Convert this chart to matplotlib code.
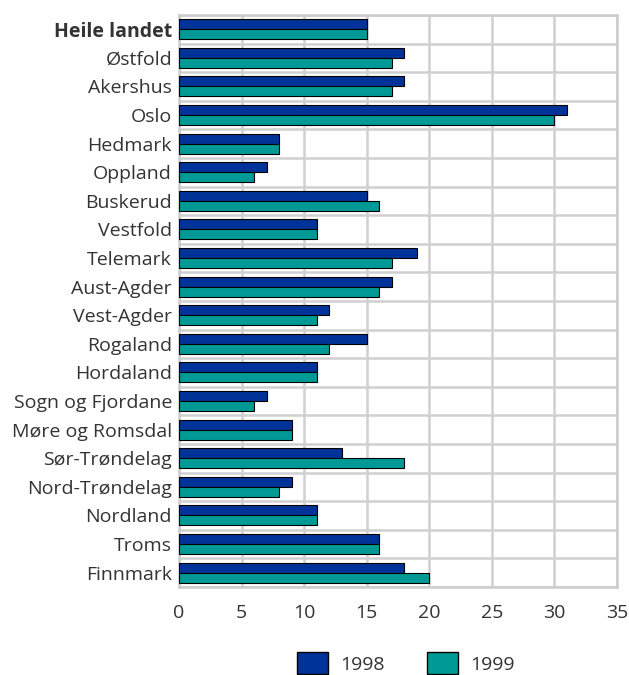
import numpy as np
import matplotlib.pyplot as plt
from matplotlib.patches import Patch

plt.rcParams['font.family'] = ['Open Sans', 'DejaVu Sans']

# data
fylker = ['Heile landet', 'Østfold', 'Akershus', 'Oslo', 'Hedmark', 'Oppland',
          'Buskerud', 'Vestfold', 'Telemark', 'Aust-Agder', 'Vest-Agder',
          'Rogaland', 'Hordaland', 'Sogn og Fjordane', 'Møre og Romsdal',
          'Sør-Trøndelag', 'Nord-Trøndelag', 'Nordland', 'Troms', 'Finnmark']
v1998 = [15, 18, 18, 31, 8, 7, 15, 11, 19, 17, 12, 15, 11, 7, 9, 13, 9, 11, 16, 18]
v1999 = [15, 17, 17, 30, 8, 6, 16, 11, 17, 16, 11, 12, 11, 6, 9, 18, 8, 11, 16, 20]

c98 = '#003399'
c99 = '#009a96'
tekst = '#333333'

fig = plt.figure(figsize=(6.29, 6.75), dpi=100)
ax = fig.add_axes([0.2846, 0.1304, 0.6964, 0.8474])

y = np.arange(len(fylker))
h = 0.35
ax.barh(y - h/2, v1998, height=h, color=c98, edgecolor='black', linewidth=0.8, zorder=3)
ax.barh(y + h/2, v1999, height=h, color=c99, edgecolor='black', linewidth=0.8, zorder=3)

ax.set_xlim(0, 35)
ax.set_ylim(len(fylker) - 0.5, -0.5)
ax.set_xticks(np.arange(0, 36, 5))
ax.set_yticks(y)
ax.set_yticklabels(fylker)
ax.set_yticks(np.arange(-0.5, len(fylker), 1), minor=True)
ax.tick_params(axis='both', which='both', length=0, labelsize=14, colors=tekst)
ax.tick_params(axis='x', pad=12)
ax.tick_params(axis='y', pad=5)
ax.get_yticklabels()[0].set_fontweight('bold')

ax.grid(axis='x', which='major', color='#d0d0d0', linewidth=1.8, zorder=0)
ax.grid(axis='y', which='minor', color='#d0d0d0', linewidth=1.8, zorder=0)
for s in ax.spines.values():
    s.set_color('#cccccc')
    s.set_linewidth(1.8)

handles = [Patch(facecolor=c98, edgecolor='black', label='1998'),
           Patch(facecolor=c99, edgecolor='black', label='1999')]
fig.legend(handles=handles, loc='lower center', bbox_to_anchor=(0.645, -0.025), ncol=2,
           frameon=False, fontsize=14, handlelength=1.6, handleheight=1.4,
           handletextpad=0.6, columnspacing=2.2, labelcolor=tekst)

fig.savefig('out.png', dpi=100)
